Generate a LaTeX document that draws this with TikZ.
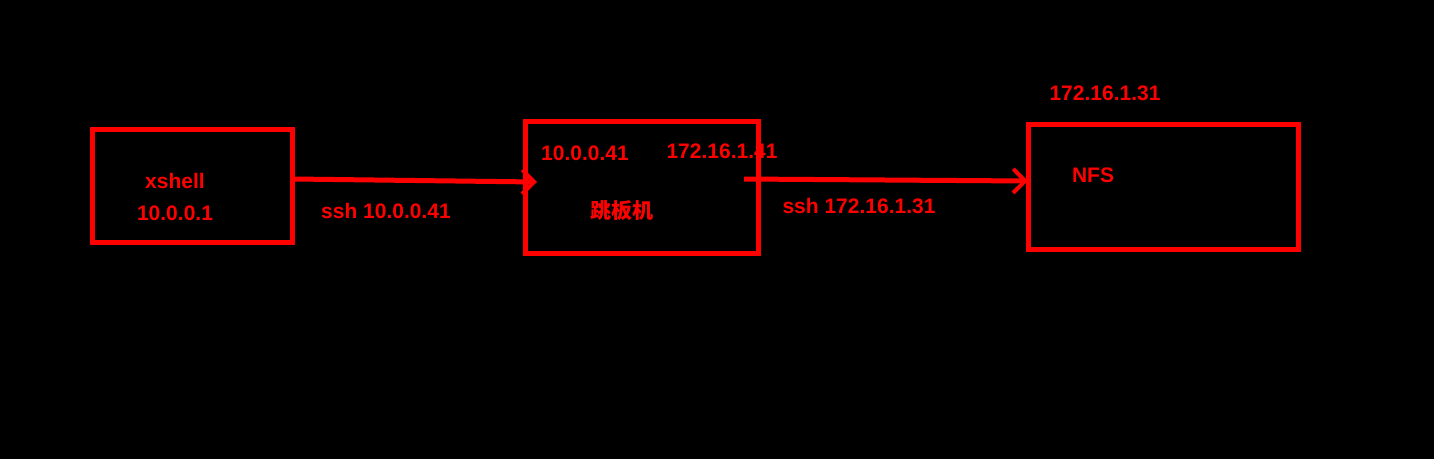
\documentclass[tikz,border=0pt]{standalone}
\usepackage{fontspec}
\setmainfont{Liberation Sans}
\newfontfamily\cjk{Noto Sans CJK SC}
\usetikzlibrary{arrows.meta}
\definecolor{rd}{RGB}{255,0,0}
\begin{document}
\begin{tikzpicture}[x=1pt,y=-1pt,
  box/.style={draw=rd,line width=5pt},
  lbl/.style={text=rd,font=\fontsize{21}{24}\selectfont\bfseries,inner sep=0pt},
  conn/.style={draw=rd,line width=5pt,-{Straight Barb[length=12pt,width=24pt,line width=4pt]}}]
\fill[black] (0,0) rectangle (1434,459);
\useasboundingbox (0,0) rectangle (1434,459);
\draw[box] (92,129) rectangle (292,242);
\draw[box] (525,121) rectangle (758,253);
\draw[box] (1028,124) rectangle (1298,249);
\node[lbl] (t1) at (175,181) {xshell};
\node[lbl] (t2) at (175,213) {10.0.0.1};
\node[lbl] (t3) at (386,211) {ssh 10.0.0.41};
\node[lbl] (t4) at (585,153) {10.0.0.41};
\node[lbl] (t5) at (722,151) {172.16.1.41};
\node[lbl] (t6) at (622,211) {\cjk 跳板机};
\node[lbl] (t7) at (859,206) {ssh 172.16.1.31};
\node[lbl] (t8) at (1105,93) {172.16.1.31};
\node[lbl] (t9) at (1093,175) {NFS};
\coordinate (a1) at (294,179);
\coordinate (a2) at (537,182);
\coordinate (b1) at (744,179);
\coordinate (b2) at (1028,181);
\draw[conn] (a1) -- (a2);
\draw[conn] (b1) -- (b2);
\end{tikzpicture}
\end{document}
